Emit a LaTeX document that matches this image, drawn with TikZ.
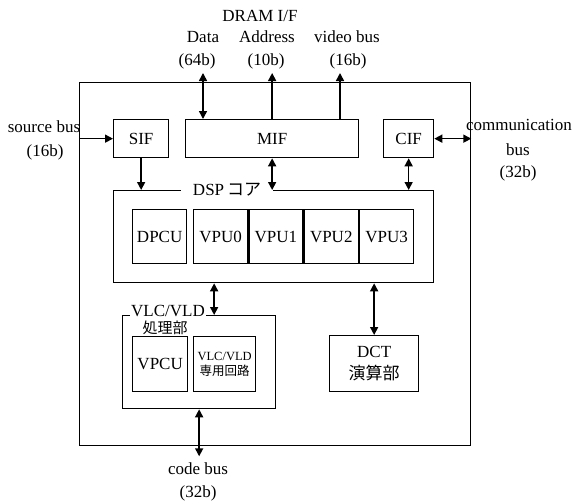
\documentclass[tikz,border=0pt]{standalone}
\usepackage{fontspec}
\setmainfont{Liberation Serif}
\newfontfamily\jpfont{Noto Sans CJK JP}
\usetikzlibrary{arrows.meta,calc}

\begin{document}
\begin{tikzpicture}[x=1pt, y=-1pt,
  font=\fontsize{17}{22}\selectfont,
  box/.style={draw, line width=1.3pt, inner sep=0pt, anchor=north west},
  bus/.style={line width=1.5pt, -{Triangle[length=8pt,width=8pt]}},
  dbus/.style={line width=1.5pt, {Triangle[length=8pt,width=8pt]}-{Triangle[length=8pt,width=8pt]}}]
  \useasboundingbox (0,0) rectangle (575,503);

  % Draw the chip outline
  \node[box, minimum width=391pt, minimum height=363pt] (chip) at (79,82) {};

  % Draw the interface blocks
  \node[box, minimum width=55pt, minimum height=38pt] (sif) at (113,119) {SIF};
  \node[box, minimum width=173pt, minimum height=38pt] (mif) at (185,119) {MIF};
  \node[box, minimum width=50pt, minimum height=38pt] (cif) at (383,119) {CIF};

  % Draw the DSP core
  \node[box, minimum width=320pt, minimum height=92pt] (dsp) at (113,190) {};
  \node[fill=white, inner xsep=12pt, inner ysep=0pt] (dsplabel) at (227,190) {DSP\,{\jpfont コア}};
  \node[box, minimum width=54pt, minimum height=54pt] (dpcu) at (132,209) {DPCU};
  \node[box, minimum width=54pt, minimum height=54pt] (vpu0) at (193,209) {VPU0};
  \node[box, minimum width=54pt, minimum height=54pt] (vpu1) at (vpu0.north east) {VPU1};
  \node[box, minimum width=54pt, minimum height=54pt] (vpu2) at (vpu1.north east) {VPU2};
  \node[box, minimum width=54pt, minimum height=54pt] (vpu3) at (vpu2.north east) {VPU3};

  % Draw the VLC/VLD unit
  \node[box, minimum width=153pt, minimum height=93pt] (vlc) at (122,315) {};
  \node[fill=white, inner xsep=1pt, inner ysep=0pt] (vlclabel) at (168,311) {VLC/VLD};
  \node[inner sep=0pt, font=\fontsize{15}{18}\selectfont] (vlcsub) at (165,328) {\jpfont 処理部};
  \node[box, minimum width=55pt, minimum height=55pt] (vpcu) at (132,336) {VPCU};
  \node[box, minimum width=62pt, minimum height=55pt, align=center,
        font=\fontsize{12.5}{15}\selectfont] (vlcc) at (193,336) {VLC/VLD\\{\jpfont 専用回路}};

  % Draw the DCT unit
  \node[box, minimum width=89pt, minimum height=56pt, align=center] (dct) at (329,335) {DCT\\{\jpfont 演算部}};

  % Draw the DRAM interface buses
  \coordinate (dataend) at (203,73);
  \coordinate (addrend) at (mif.north |- dataend);
  \coordinate (videoend) at (340,73);
  \draw[dbus] (dataend) -- (dataend |- mif.north);
  \draw[bus] (mif.north) -- (addrend);
  \draw[bus] (videoend |- mif.north) -- (videoend);
  \node (dram) at (260,16) {DRAM I/F};
  \node (data) at (203,37) {Data};
  \node (addr) at (267,37) {Address};
  \node (video) at (347,37) {video bus};
  \node (datawidth) at (197,61) {(64b)};
  \node (addrwidth) at (266,61) {(10b)};
  \node (videowidth) at (348,61) {(16b)};

  % Draw the source and communication buses
  \coordinate (srcend) at (chip.west |- sif.west);
  \coordinate (comend) at (chip.east |- cif.east);
  \draw[bus] (srcend) -- (sif.west);
  \draw[dbus] (cif.east) -- (comend);
  \node (src) at (44,127) {source bus};
  \node (srcwidth) at (45,152) {(16b)};
  \node (com) at (519,125) {communication};
  \node (combus) at (518,150) {bus};
  \node (comwidth) at (518,173) {(32b)};

  % Draw the internal buses
  \draw[bus] (sif.south) -- (sif.south |- dsp.north);
  \draw[dbus] (mif.south) -- (mif.south |- dsp.north);
  \draw[dbus] (cif.south) -- (cif.south |- dsp.north);
  \coordinate (vlctap) at ($(vlc.north)+(15,0)$);
  \draw[dbus] (vlctap |- dsp.south) -- (vlctap);
  \draw[dbus] (dct.north |- dsp.south) -- (dct.north);

  % Draw the code bus
  \coordinate (codeend) at ($(vlc.south)+(0,47)$);
  \draw[dbus] (vlc.south) -- (codeend);
  \node (code) at (198,469) {code bus};
  \node (codewidth) at (198,493) {(32b)};
\end{tikzpicture}
\end{document}
